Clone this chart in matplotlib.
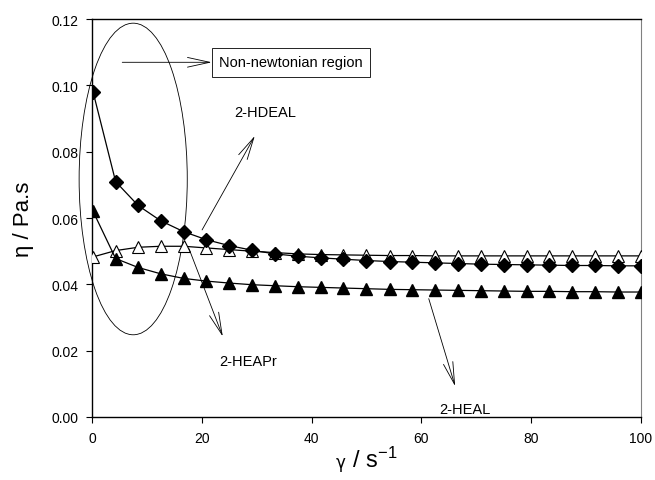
import matplotlib.pyplot as plt
from matplotlib.patches import Ellipse
from matplotlib.offsetbox import TextArea, HPacker, AnchoredOffsetbox

plt.rcParams['font.family'] = ['Liberation Sans', 'DejaVu Sans']
plt.rcParams['mathtext.fontset'] = 'custom'
plt.rcParams['mathtext.rm'] = 'Liberation Sans'

# shear rate (s^-1)
shear = [0.2, 4.3, 8.4, 12.5, 16.7, 20.8, 25.0, 29.2, 33.3, 37.5, 41.7, 45.8,
         50.0, 54.2, 58.3, 62.5, 66.7, 70.8, 75.0, 79.2, 83.3, 87.5, 91.7, 95.8, 100.0]

# viscosity (Pa.s)
hdeal = [0.098, 0.071, 0.0638, 0.0592, 0.0559, 0.0535, 0.0517, 0.0503, 0.0492,
         0.0485, 0.0480, 0.0476, 0.0472, 0.0469, 0.0467, 0.0465, 0.0463, 0.0461,
         0.0460, 0.0459, 0.0458, 0.0457, 0.0457, 0.0456, 0.0456]
heapr = [0.0483, 0.0502, 0.0512, 0.0515, 0.0515, 0.0510, 0.0505, 0.0500, 0.0496,
         0.0492, 0.0490, 0.0489, 0.0488, 0.0487, 0.0487, 0.0486, 0.0486, 0.0486,
         0.0486, 0.0486, 0.0486, 0.0486, 0.0486, 0.0486, 0.0486]
heal = [0.0620, 0.0478, 0.0451, 0.0432, 0.0418, 0.0410, 0.0404, 0.0399, 0.0396,
        0.0393, 0.0391, 0.0389, 0.0387, 0.0385, 0.0384, 0.0383, 0.0382, 0.0381,
        0.0380, 0.0379, 0.0379, 0.0378, 0.0378, 0.0377, 0.0377]

fig = plt.figure(figsize=(6.55, 4.81), dpi=100)
ax = fig.add_axes([0.1405, 0.131, 0.838, 0.827])

ax.plot(shear, heapr, color='black', lw=0.9, marker='^', ms=8,
        mfc='white', mec='black', mew=0.8, zorder=3)
ax.plot(shear, hdeal, color='black', lw=0.9, marker='D', ms=7.5,
        mfc='black', mec='black', zorder=4)
ax.plot(shear, heal, color='black', lw=0.9, marker='^', ms=8,
        mfc='black', mec='black', zorder=4)

ax.set_xlim(0, 100)
ax.set_ylim(0, 0.12)
ax.set_xticks([0, 20, 40, 60, 80, 100])
ax.set_yticks([0, 0.02, 0.04, 0.06, 0.08, 0.10, 0.12])
ax.set_yticklabels(['0.00', '0.02', '0.04', '0.06', '0.08', '0.10', '0.12'])
ax.tick_params(labelsize=10, direction='out', length=4, width=0.8, pad=6)
ax.spines['right'].set_color('gray')
for s in ['left', 'bottom', 'top']:
    ax.spines[s].set_linewidth(1.0)

# x label: small upright gamma, then "/ s-1"
gam = TextArea('γ', textprops=dict(fontsize=12, family='DejaVu Sans'))
rest = TextArea(r' / s$\mathregular{^{-1}}$', textprops=dict(fontsize=17))
label = HPacker(children=[gam, rest], align='baseline', pad=0, sep=0)
box = AnchoredOffsetbox(loc='upper center', child=label, pad=0, frameon=False,
                        bbox_to_anchor=(0.5, -0.075), bbox_transform=ax.transAxes,
                        borderpad=0)
ax.add_artist(box)

ax.set_ylabel('η / Pa.s', fontsize=16, labelpad=12)

# non-newtonian region marker
ell = Ellipse((7.5, 0.0718), 19.7, 0.094, fill=False, lw=0.6,
              color='black', clip_on=False)
ax.add_patch(ell)

arrow = dict(arrowstyle='->,head_length=1.6,head_width=0.35', lw=0.6, color='black')

ax.annotate('Non-newtonian region', xy=(22.5, 0.107), xytext=(23.2, 0.107),
            fontsize=10.5, va='center', ha='left',
            bbox=dict(boxstyle='square,pad=0.5', fc='white', ec='black', lw=0.6))
ax.annotate('', xy=(22.3, 0.107), xytext=(5.0, 0.107), arrowprops=arrow)

ax.text(31.5, 0.092, '2-HDEAL', fontsize=10.5, ha='center', va='center')
ax.annotate('', xy=(29.9, 0.0855), xytext=(19.8, 0.0557), arrowprops=arrow)

ax.text(28.5, 0.017, '2-HEAPr', fontsize=10.5, ha='center', va='center')
ax.annotate('', xy=(24.0, 0.0235), xytext=(17.5, 0.0515), arrowprops=arrow)

ax.text(68.0, 0.0025, '2-HEAL', fontsize=10.5, ha='center', va='center')
ax.annotate('', xy=(66.3, 0.0085), xytext=(61.2, 0.0365), arrowprops=arrow)

fig.savefig('out.png', dpi=100)
